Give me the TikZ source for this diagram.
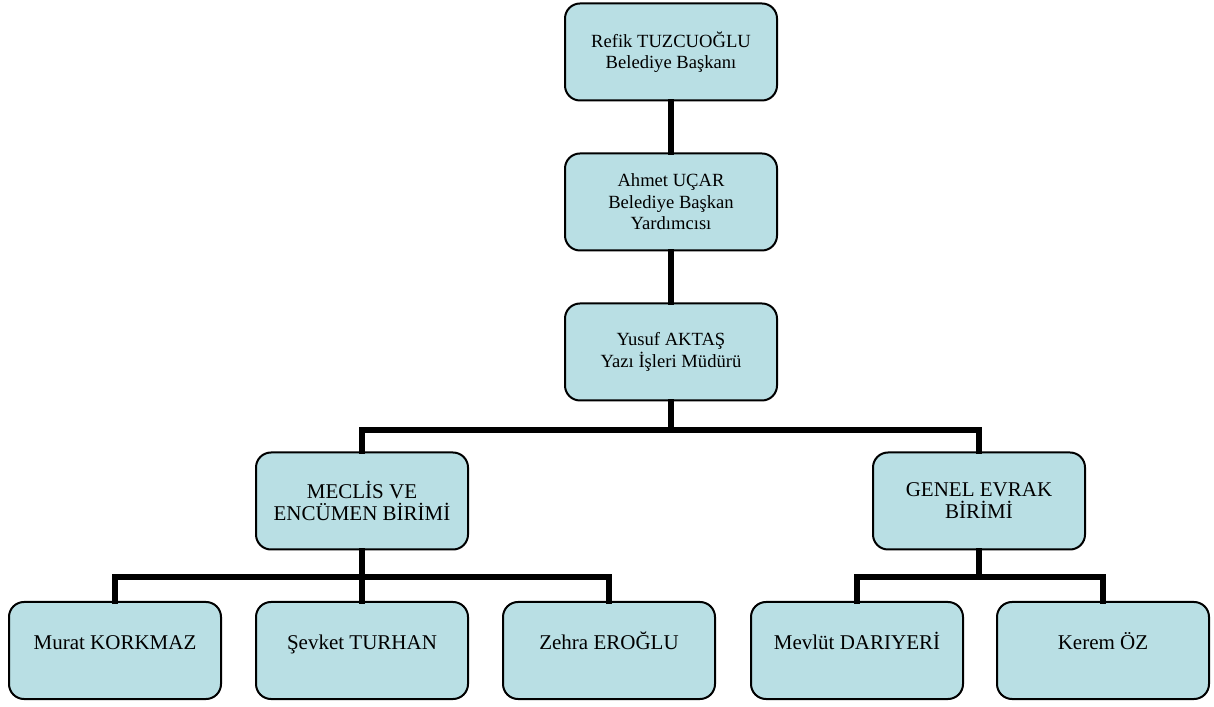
\documentclass[tikz,border=0pt]{standalone}
\usepackage{fontspec}
\setmainfont{Liberation Serif}
\usepackage{tikz}
\usepackage{xcolor}
\definecolor{kutumavi}{HTML}{B9DFE4}
\tikzset{
    kutu/.style={draw=black, line width=1pt, fill=kutumavi, rounded corners=7.5pt,
        minimum width=106pt, minimum height=48.5pt, inner sep=0pt, align=center,
        font=\fontsize{9.3}{10.7}\selectfont},
    birim/.style={kutu, font=\fontsize{10.5}{11}\selectfont},
    personel/.style={birim, text height=8pt, text depth=8.7pt},
    hat/.style={line width=2.8pt, line cap=rect},
}

\begin{document}
\begin{tikzpicture}[x=0.5pt,y=0.5pt]
		\useasboundingbox (0,0) rectangle (1214,706);
		\node[kutu] (baskan) at (671,654) {Refik TUZCUOĞLU\\Belediye Başkanı};
		\node[kutu] (yardimci) at (671,504) {Ahmet UÇAR\\Belediye Başkan\\Yardımcısı};
		\node[kutu] (mudur) at (671,354) {Yusuf AKTAŞ\\Yazı İşleri Müdürü};
		\node[birim] (meclis) at (362,205) {MECLİS VE\\ENCÜMEN BİRİMİ};
		\node[birim] (evrak) at (979,205) {GENEL EVRAK\\BİRİMİ};
		\node[personel] (murat) at (115,55.5) {Murat KORKMAZ};
		\node[personel] (sevket) at (362,55.5) {Şevket TURHAN};
		\node[personel] (zehra) at (609,55.5) {Zehra EROĞLU};
		\node[personel] (mevlut) at (857,55.5) {Mevlüt DARIYERİ};
		\node[personel] (kerem) at (1103,55.5) {Kerem ÖZ};
		\coordinate (mudurhat) at (671,276);
		\coordinate (meclishat) at (362,129);
		\coordinate (evrakhat) at (979,129);
		\draw[hat] (baskan) -- (yardimci);
		\draw[hat] (yardimci) -- (mudur);
		\draw[hat] (mudur) -- (mudurhat);
		\draw[hat] (mudurhat) -| (meclis.north);
		\draw[hat] (mudurhat) -| (evrak.north);
		\draw[hat] (meclis) -- (sevket);
		\draw[hat] (meclishat) -| (murat.north);
		\draw[hat] (meclishat) -| (zehra.north);
		\draw[hat] (evrak) -- (evrakhat);
		\draw[hat] (evrakhat) -| (mevlut.north);
		\draw[hat] (evrakhat) -| (kerem.north);
	\end{tikzpicture}
\end{document}
